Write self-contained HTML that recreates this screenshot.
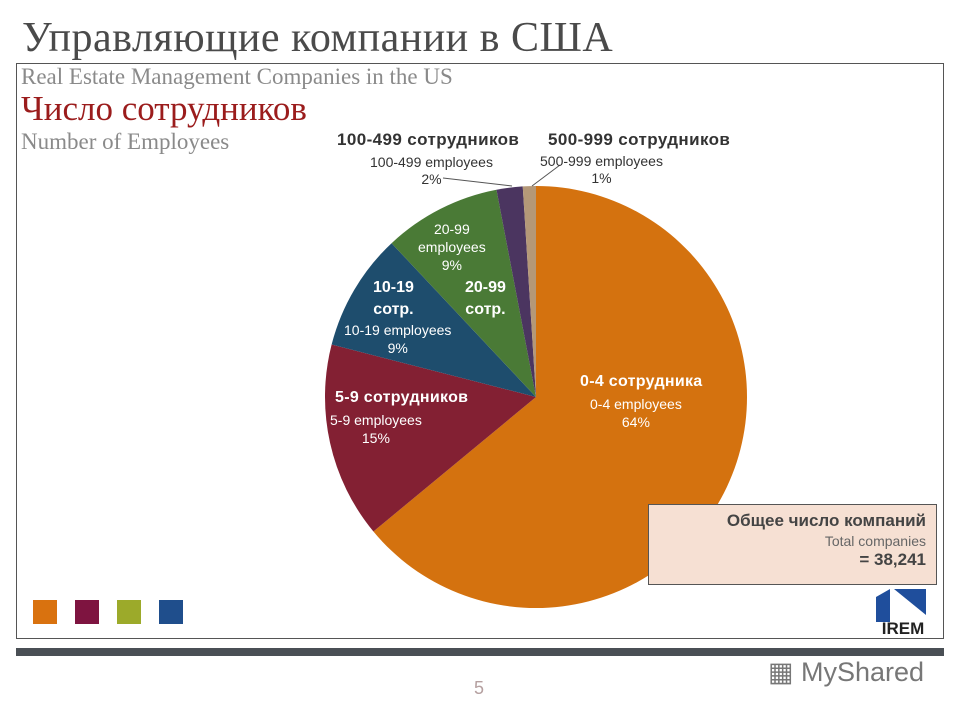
<!DOCTYPE html>
<html><head><meta charset="utf-8"><style>
body{margin:0;width:960px;height:720px;background:#fff;position:relative;overflow:hidden;font-family:"Liberation Sans",sans-serif}
.a{position:absolute;white-space:nowrap}
.serif{font-family:"Liberation Serif","Noto Serif CJK SC",serif}
</style></head><body>
<div class="a serif" style="left:22px;top:14px;font-size:42px;letter-spacing:0.5px;color:#4a4a4a">Управляющие компании в США</div>
<div class="a" style="left:16px;top:63px;width:928px;height:576px;border:1px solid #555;box-sizing:border-box"></div>
<div class="a serif" style="left:21px;top:64px;font-size:23px;color:#8a8a8a">Real Estate Management Companies in the US</div>
<div class="a serif" style="left:21px;top:89px;font-size:35px;color:#9b1c1c">Число сотрудников</div>
<div class="a serif" style="left:21px;top:129px;font-size:23px;color:#8a8a8a">Number of Employees</div>
<svg class="a" style="left:0;top:0" width="960" height="720">
<g id="slices"></g>
<line x1="443" y1="178" x2="512" y2="186" stroke="#555" stroke-width="1"/>
<line x1="560" y1="165" x2="532" y2="186" stroke="#555" stroke-width="1"/>
</svg>
<div class="a" style="left:337px;top:130px;font-size:17px;letter-spacing:0.4px;font-weight:bold;color:#333">100-499 сотрудников</div>
<div class="a" style="left:548px;top:130px;font-size:17px;letter-spacing:0.4px;font-weight:bold;color:#333">500-999 сотрудников</div>
<div class="a" style="left:370px;top:154px;font-size:14px;color:#333;text-align:center;line-height:17px">100-499 employees<br>2%</div>
<div class="a" style="left:540px;top:153px;font-size:14px;color:#333;text-align:center;line-height:17px">500-999 employees<br>1%</div>
<div class="a" style="left:418px;top:220px;font-size:14px;color:#fff;text-align:center;line-height:18px">20-99<br>employees<br>9%</div>
<div class="a" style="left:373px;top:277px;font-size:16px;font-weight:bold;color:#fff;text-align:center;line-height:22px">10-19<br>сотр.</div>
<div class="a" style="left:465px;top:277px;font-size:16px;font-weight:bold;color:#fff;text-align:center;line-height:22px">20-99<br>сотр.</div>
<div class="a" style="left:344px;top:321px;font-size:14px;color:#fff;text-align:center;line-height:18px">10-19 employees<br>9%</div>
<div class="a" style="left:335px;top:389px;font-size:16px;letter-spacing:0.3px;font-weight:bold;color:#fff">5-9 сотрудников</div>
<div class="a" style="left:330px;top:411px;font-size:14px;color:#fff;text-align:center;line-height:18px">5-9 employees<br>15%</div>
<div class="a" style="left:580px;top:373px;font-size:16px;letter-spacing:0.3px;font-weight:bold;color:#fff">0-4 сотрудника</div>
<div class="a" style="left:590px;top:395px;font-size:14px;color:#fff;text-align:center;line-height:18px">0-4 employees<br>64%</div>
<div class="a" style="left:648px;top:504px;width:289px;height:81px;background:#f6e0d3;border:1px solid #555;box-sizing:border-box;text-align:right;padding:6px 10px 0 0">
<div style="font-size:17px;font-weight:bold;color:#444">Общее число компаний</div>
<div style="font-size:14px;color:#666;margin-top:2px">Total companies</div>
<div style="font-size:17px;font-weight:bold;color:#444;margin-top:1px">= 38,241</div></div>
<div class="a" style="left:33px;top:600px;width:24px;height:24px;background:#d9720f"></div>
<div class="a" style="left:75px;top:600px;width:24px;height:24px;background:#7e1440"></div>
<div class="a" style="left:117px;top:600px;width:24px;height:24px;background:#9caa2a"></div>
<div class="a" style="left:159px;top:600px;width:24px;height:24px;background:#1f4e8c"></div>
<svg class="a" style="left:874px;top:585px" width="60" height="50">
<polygon points="2,12 16,4 16,37 2,37" fill="#1f4e9c"/><polygon points="20,4 52,4 52,30" fill="#1f4e9c"/>
<text x="29" y="49" font-size="17" font-weight="bold" text-anchor="middle" fill="#222" font-family="Liberation Sans">IREM</text></svg>
<div class="a" style="left:16px;top:648px;width:928px;height:8px;background:#4a4f55"></div>
<div class="a" style="left:474px;top:678px;font-size:18px;color:#b5a0a0">5</div>
<div class="a" style="left:768px;top:657px;font-size:27px;color:#777">▦ MyShared</div>
<script>
const categories=["0-4","5-9","10-19","20-99","100-499","500-999"];
const values=[64,15,9,9,2,1];
const colors=["#d4720f","#832033","#1e4d6d","#4a7a36","#4b3560","#b49878"];
const cx=536,cy=397,r=211;
const g=document.getElementById('slices');
const tot=values.reduce((a,b)=>a+b,0);
let a0=0;
values.forEach((v,i)=>{
 const a1=a0+v/tot*2*Math.PI;
 const p=(a)=>[cx+r*Math.sin(a),cy-r*Math.cos(a)];
 const [x0,y0]=p(a0),[x1,y1]=p(a1);
 const path=document.createElementNS('http://www.w3.org/2000/svg','path');
 path.setAttribute('d',`M${cx},${cy}L${x0},${y0}A${r},${r} 0 ${a1-a0>Math.PI?1:0} 1 ${x1},${y1}Z`);
 path.setAttribute('fill',colors[i]);
 
 
 g.appendChild(path);
 a0=a1;
});
</script>
</body></html>
